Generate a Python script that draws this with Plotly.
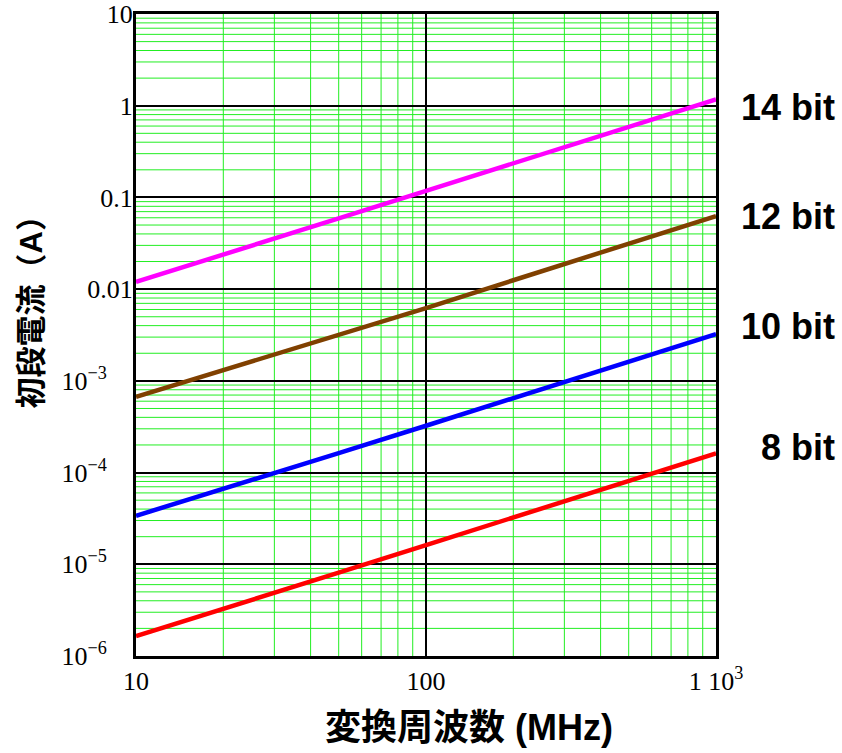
import plotly.graph_objects as go

# ---- data ----
freq_mhz = [10, 20, 50, 100, 200, 500, 1000]
i_14bit = [0.0120, 0.0236, 0.059, 0.118, 0.236, 0.59, 1.17]
i_12bit = [6.7e-4, 1.3e-3, 3.15e-3, 6.2e-3, 1.25e-2, 3.12e-2, 6.27e-2]
i_10bit = [3.38e-5, 6.6e-5, 1.63e-4, 3.24e-4, 6.5e-4, 1.62e-3, 3.24e-3]
i_8bit = [1.65e-6, 3.25e-6, 8.1e-6, 1.62e-5, 3.25e-5, 8.1e-5, 1.62e-4]

series_names = ["14 bit", "12 bit", "10 bit", "8 bit"]
series_values = [i_14bit, i_12bit, i_10bit, i_8bit]
series_colors = ["#ff00ff", "#804000", "#0000ff", "#ff0000"]

x_tickvals = [10, 100, 1000]
x_ticktext = ["10", "100", "1 10<sup>3</sup>"]
y_tickvals = [1e-6, 1e-5, 1e-4, 1e-3, 0.01, 0.1, 1, 10]
pad = "\u2002\u2002"
y_ticktext = ["10<sup>−6</sup>" + pad, "10<sup>−5</sup>" + pad,
              "10<sup>−4</sup>" + pad, "10<sup>−3</sup>" + pad,
              "0.01", "0.1", "1", "10"]

x_title = "変換周波数 (MHz)"
y_title = "初段電流（A）"

# ---- figure ----
fig = go.Figure()
for name, vals, col in zip(series_names, series_values, series_colors):
    fig.add_trace(go.Scatter(x=freq_mhz, y=vals, mode="lines", name=name,
                             line=dict(color=col, width=4.5), hoverinfo="skip"))

# minor (green) grid lines at 2..9 of each decade, drawn beneath the black major grid
grid_green = "#22ee22"
x_minor = [m * 10 ** d for d in range(1, 3) for m in range(2, 10)]
y_minor = [m * 10.0 ** d for d in range(-6, 1) for m in range(2, 10)]
for xv in x_minor:
    fig.add_shape(type="line", xref="x", yref="paper", x0=xv, x1=xv, y0=0, y1=1,
                  line=dict(color=grid_green, width=1), layer="below")
for yv in y_minor:
    fig.add_shape(type="line", xref="paper", yref="y", x0=0, x1=1, y0=yv, y1=yv,
                  line=dict(color=grid_green, width=1), layer="below")

tick_font = dict(family="Liberation Serif, Times New Roman, serif", size=26, color="black")
bold_font = dict(family="Liberation Sans, Arial, Noto Sans CJK JP, sans-serif", size=36, color="black")

common = dict(type="log", showgrid=True, gridcolor="black", gridwidth=2,
              showline=True, linecolor="black", linewidth=3, mirror=True,
              ticks="", tickfont=tick_font, zeroline=False, automargin=False)

fig.update_layout(
    width=842, height=753,
    margin=dict(l=136, r=126, t=14, b=97),
    paper_bgcolor="white", plot_bgcolor="white",
    showlegend=False,
    xaxis=dict(range=[1, 3], tickvals=x_tickvals, ticktext=x_ticktext,
               ticklabelstandoff=0, **common),
    yaxis=dict(range=[-6, 1], tickvals=y_tickvals, ticktext=y_ticktext,
               ticklabelstandoff=-5, **common),
)

label_y = [0.855, 0.684, 0.5125, 0.3255]
for name, ly in zip(series_names, label_y):
    fig.add_annotation(text="<b>%s</b>" % name, xref="paper", yref="paper",
                       x=1.2086, y=ly, xanchor="right", yanchor="middle",
                       showarrow=False, font=bold_font)

fig.add_annotation(text="<b>%s</b>" % x_title, xref="paper", yref="paper",
                   x=0.574, y=-0.112, xanchor="center", yanchor="middle",
                   showarrow=False, font=bold_font)
fig.add_annotation(text="<b>%s</b>" % y_title, xref="paper", yref="paper",
                   x=-0.18, y=0.547, xanchor="center", yanchor="middle",
                   textangle=-90, showarrow=False,
                   font=dict(family=bold_font["family"], size=31, color="black"))

fig.write_html("out.html", config={"displayModeBar": False},
               post_script="document.body.style.margin='0';")
